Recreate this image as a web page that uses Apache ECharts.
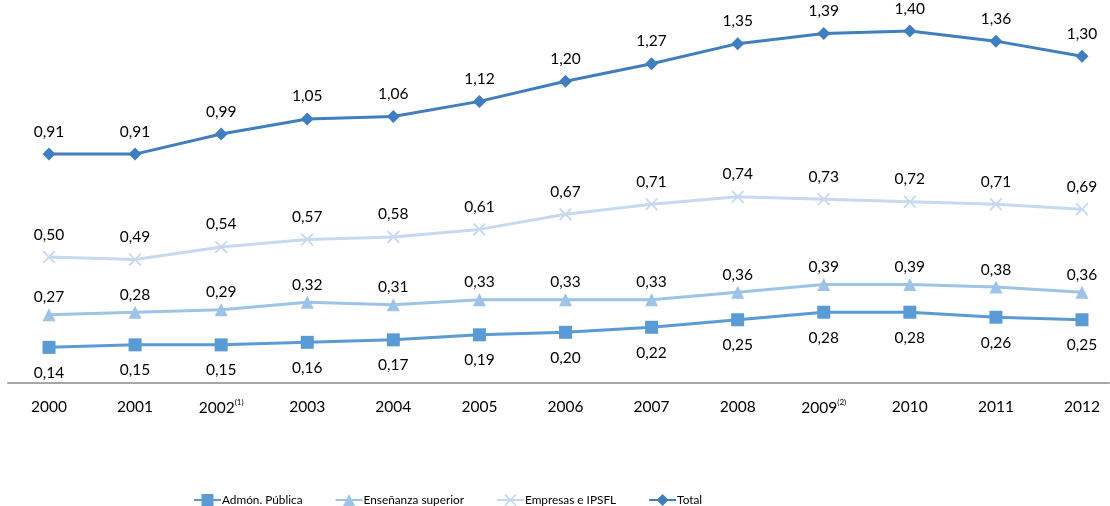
<!DOCTYPE html>
<html><head><meta charset="utf-8">
<script src="https://cdn.jsdelivr.net/npm/echarts@6/dist/echarts.min.js"></script>
<style>html,body{margin:0;padding:0;background:#fff}#c{width:1110px;height:506px}</style>
</head><body><div id="c"></div>
<script>
const years = ['2000','2001','2002','2003','2004','2005','2006','2007','2008','2009','2010','2011','2012'];
const yearNotes = {'2002':'(1)','2009':'(2)'};
const admon = [0.14,0.15,0.15,0.16,0.17,0.19,0.20,0.22,0.25,0.28,0.28,0.26,0.25];
const ensenanza = [0.27,0.28,0.29,0.32,0.31,0.33,0.33,0.33,0.36,0.39,0.39,0.38,0.36];
const empresas = [0.50,0.49,0.54,0.57,0.58,0.61,0.67,0.71,0.74,0.73,0.72,0.71,0.69];
const total = [0.91,0.91,0.99,1.05,1.06,1.12,1.20,1.27,1.35,1.39,1.40,1.36,1.30];

const FONT = 'Lato, "Liberation Sans", sans-serif';
const fmt = p => p.value.toFixed(2).replace('.', ',');
const crossPath = 'path://M0,1L1,0L5,4L9,0L10,1L6,5L10,9L9,10L5,6L1,10L0,9L4,5Z';

function lbl(pos, dist){
  return {show:true, position:pos, distance:dist, formatter:fmt, color:'#000', fontSize:15.5, fontFamily:FONT};
}
function mk(name, data, color, symbol, size, pos, dist, z){
  return {name, type:'line', data, xAxisIndex:0, yAxisIndex:0, symbol, symbolSize:size,
    lineStyle:{color, width:3}, itemStyle:{color}, label:lbl(pos, dist), z,
    emphasis:{disabled:true}, animation:false};
}

const chart = echarts.init(document.getElementById('c'));
chart.setOption({
  animation:false,
  grid:[
    {left:49, right:28, top:6, bottom:123.5},
    {left:8, right:1, top:6, bottom:123.5}
  ],
  xAxis:[
    {type:'category', gridIndex:0, data:years, boundaryGap:false,
     axisLine:{show:false}, axisTick:{show:false},
     axisLabel:{interval:0, margin:16, color:'#000', fontSize:15.5, fontFamily:FONT,
       formatter: v => yearNotes[v] ? v + '{sup|' + yearNotes[v] + '}' : v,
       rich:{sup:{fontSize:8, fontFamily:FONT, color:'#000', verticalAlign:'top', padding:[0,0,10,0]}}}},
    {type:'value', gridIndex:1, min:0, max:1, show:true,
     axisLine:{show:true, lineStyle:{color:'#A6A6A6', width:2}}, axisTick:{show:false},
     axisLabel:{show:false}, splitLine:{show:false}}
  ],
  yAxis:[
    {type:'value', gridIndex:0, min:0, max:1.5, show:false, splitLine:{show:false}},
    {type:'value', gridIndex:1, min:0, max:1, show:false, splitLine:{show:false}}
  ],
  legend:{
    left:188, top:489, itemWidth:27, itemHeight:15, itemGap:32,
    textStyle:{fontSize:11.8, fontFamily:FONT, color:'#000', padding:[0,0,0,-4]},
    data:['Admón. Pública','Enseñanza superior','Empresas e IPSFL','Total']
  },
  series:[
    mk('Admón. Pública', admon, '#5B9BD5', 'rect', 13, 'bottom', 11, 2),
    mk('Enseñanza superior', ensenanza, '#9DC3E6', 'triangle', 13, 'top', 3, 3),
    mk('Empresas e IPSFL', empresas, '#C6D9F0', crossPath, 13, 'top', 8, 4),
    mk('Total', total, '#3F7FBF', 'diamond', 13, 'top', 8, 5)
  ]
});
</script></body></html>
